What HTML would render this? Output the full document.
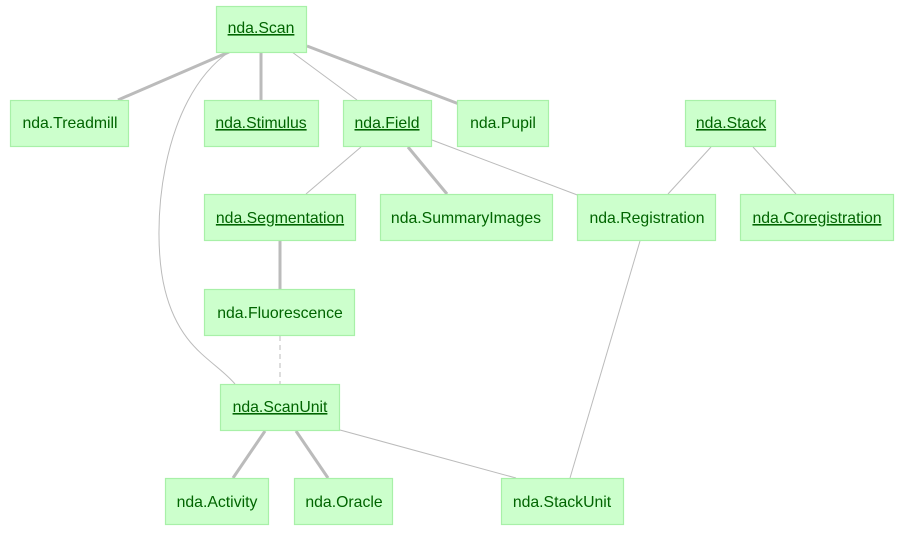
<!DOCTYPE html>
<html><head><meta charset="utf-8"><style>body{margin:0;background:#fff}svg text{font-family:"Liberation Sans",sans-serif;font-size:15.8px;fill:#006400}</style></head>
<body><svg width="905" height="532" xmlns="http://www.w3.org/2000/svg">
<g stroke="#bbb" fill="none">
<g stroke-width="3">
<line x1="229" y1="52" x2="118" y2="100"/>
<line x1="261" y1="52" x2="261" y2="100"/>
<line x1="307" y1="46" x2="459" y2="104"/>
<line x1="408" y1="147" x2="447" y2="194"/>
<line x1="280" y1="241" x2="280" y2="289"/>
<line x1="265" y1="431" x2="233" y2="478"/>
<line x1="296" y1="431" x2="328" y2="478"/>
</g>
<g stroke-width="1">
<line x1="292" y1="52" x2="357" y2="100"/>
<path d="M229 52 C160 100 150 230 165 290 C180 350 215 360 235 384"/>
<line x1="361" y1="147" x2="306" y2="194"/>
<line x1="432" y1="140" x2="580" y2="196"/>
<line x1="711" y1="147" x2="668" y2="194"/>
<line x1="753" y1="147" x2="796" y2="194"/>
<line x1="640" y1="241" x2="570" y2="478"/>
<line x1="340" y1="430" x2="516" y2="478"/>
<line x1="280" y1="336" x2="280" y2="384" stroke-dasharray="5,4"/>
</g>
</g>
<g fill="#ccffcc" stroke="#a8f0a8" stroke-width="1.2">
<rect x="216.5" y="6.5" width="90" height="46"/>
<rect x="10.5" y="100.5" width="118" height="46"/>
<rect x="204.5" y="100.5" width="114" height="46"/>
<rect x="343.5" y="100.5" width="88" height="46"/>
<rect x="457.5" y="100.5" width="91" height="46"/>
<rect x="685.5" y="100.5" width="90" height="46"/>
<rect x="204.5" y="194.5" width="151" height="46"/>
<rect x="380.5" y="194.5" width="172" height="46"/>
<rect x="577.5" y="194.5" width="138" height="46"/>
<rect x="740.5" y="194.5" width="153" height="46"/>
<rect x="204.5" y="289.5" width="150" height="46"/>
<rect x="220.5" y="384.5" width="119" height="46"/>
<rect x="165.5" y="478.5" width="103" height="46"/>
<rect x="294.5" y="478.5" width="98" height="46"/>
<rect x="501.5" y="478.5" width="122" height="46"/>
</g>
<g text-anchor="middle">
<text x="261" y="33" text-decoration="underline">nda.Scan</text>
<text x="70" y="128">nda.Treadmill</text>
<text x="261" y="128" text-decoration="underline">nda.Stimulus</text>
<text x="387" y="128" text-decoration="underline">nda.Field</text>
<text x="503" y="128">nda.Pupil</text>
<text x="731" y="128" text-decoration="underline">nda.Stack</text>
<text x="280" y="223" text-decoration="underline">nda.Segmentation</text>
<text x="466" y="223">nda.SummaryImages</text>
<text x="647" y="223">nda.Registration</text>
<text x="817" y="223" text-decoration="underline">nda.Coregistration</text>
<text x="280" y="318">nda.Fluorescence</text>
<text x="280" y="412" text-decoration="underline">nda.ScanUnit</text>
<text x="217" y="507">nda.Activity</text>
<text x="344" y="507">nda.Oracle</text>
<text x="562" y="507">nda.StackUnit</text>
</g>
</svg></body></html>
